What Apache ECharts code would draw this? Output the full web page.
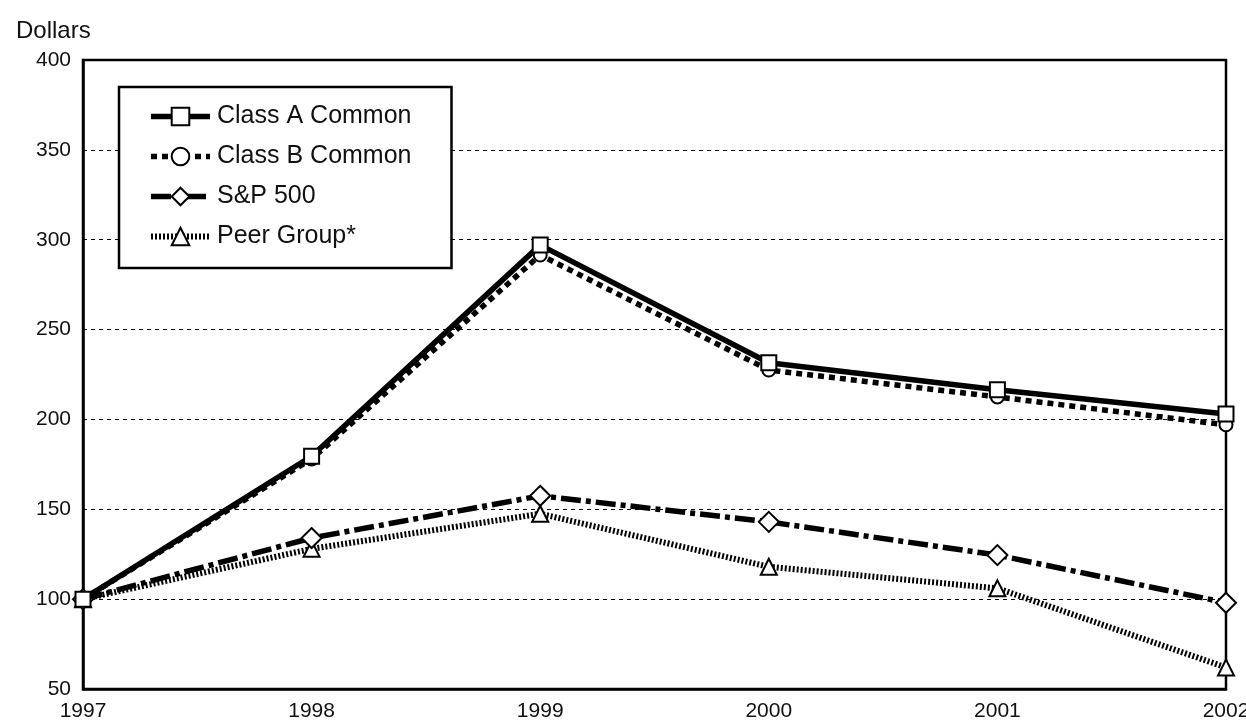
<!DOCTYPE html>
<html><head><meta charset="utf-8">
<script src="https://cdn.jsdelivr.net/npm/echarts@6/dist/echarts.min.js"></script>
<style>html,body{margin:0;padding:0;background:#fff;}#c{width:1246px;height:724px;}</style>
</head><body><div id="c"></div>
<script>
const years = ['1997','1998','1999','2000','2001','2002'];
const classA = [100, 179.5, 297, 231.5, 216.5, 203];
const classB = [100, 178, 291.5, 227.5, 212.5, 197];
const sp500 = [100, 134, 157.5, 143, 124.5, 98];
const peer = [100, 128, 147.5, 118, 106, 62];
const seriesNames = ['Class A Common', 'Class B Common', 'S&P 500', 'Peer Group*'];

const font = "'Liberation Sans', Arial, Helvetica, sans-serif";
const styles = [
  {symbol: 'rect', size: 15, type: 'solid', width: 5.5, z: 5},
  {symbol: 'circle', size: 13, type: [6, 5], width: 5.5, z: 4},
  {symbol: 'diamond', size: 20, type: [20, 5, 5, 5], width: 5.5, z: 3},
  {symbol: 'triangle', size: 16, type: [2, 2], width: 6, z: 2}
];
const seriesData = [classA, classB, sp500, peer];

const chart = echarts.init(document.getElementById('c'), null, {renderer: 'canvas'});
const series = seriesNames.map((name, i) => ({
  name, type: 'line', data: seriesData[i], symbol: styles[i].symbol, symbolSize: styles[i].size, z: styles[i].z,
  showAllSymbol: true,
  lineStyle: {color: '#000', width: styles[i].width, type: styles[i].type, cap: 'butt'},
  itemStyle: {color: '#fff', borderColor: '#000', borderWidth: 2},
  emphasis: {disabled: true}
}));
const legendData = seriesNames.map((name, i) => ({
  name,
  itemStyle: {color: '#fff', borderColor: '#000', borderWidth: 2},
  lineStyle: {color: '#000', width: styles[i].width, type: styles[i].type}
}));
chart.setOption({
  animation: false,
  backgroundColor: '#fff',
  textStyle: {fontFamily: font, color: '#000'},
  title: {text: 'Dollars', left: 11, top: 14, textStyle: {fontFamily: font, fontSize: 24, fontWeight: 'normal', color: '#111'}},
  grid: {left: 83, right: 20, top: 60, bottom: 35, containLabel: false, outerBoundsMode: 'none', show: true, borderColor: '#000', borderWidth: 2.5, backgroundColor: 'transparent'},
  legend: {
    orient: 'vertical', left: 119, top: 87,
    data: legendData,
    itemWidth: 59, itemHeight: 22, itemGap: 15,
    padding: [17, 40, 19, 29],
    backgroundColor: '#fff', borderColor: '#000', borderWidth: 2.5,
    textStyle: {fontFamily: font, fontSize: 25, color: '#111', padding: [0,0,0,2]},
    selectedMode: false
  },
  xAxis: {
    type: 'category', data: years, boundaryGap: false,
    axisLine: {show: true, lineStyle: {color: '#000', width: 2.5}},
    axisTick: {show: false},
    axisLabel: {fontFamily: font, fontSize: 21, color: '#111', margin: 12},
    splitLine: {show: false}
  },
  yAxis: {
    type: 'value', min: 50, max: 400, interval: 50,
    axisLine: {show: true, lineStyle: {color: '#000', width: 2.5}},
    axisTick: {show: false},
    axisLabel: {fontFamily: font, fontSize: 21, color: '#111', margin: 12},
    splitLine: {show: true, lineStyle: {color: '#000', width: 1, type: [4, 4]}}
  },
  series
});
</script></body></html>
